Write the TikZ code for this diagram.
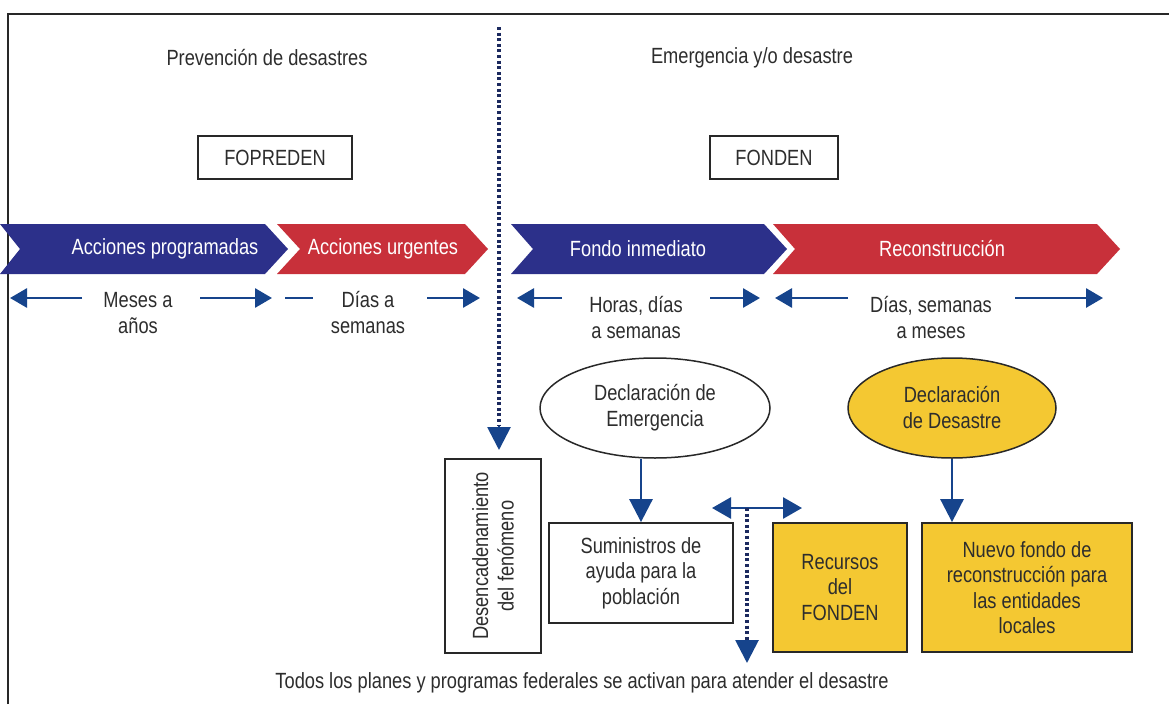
\documentclass[tikz,border=0pt]{standalone}
\usepackage{fontspec}
\setmainfont{Liberation Sans}[FakeStretch=0.83]
\usetikzlibrary{shapes.geometric,arrows.meta}
\definecolor{bblue}{RGB}{44,48,138}
\definecolor{bred}{RGB}{200,48,58}
\definecolor{byellow}{RGB}{244,200,50}
\definecolor{ablue}{RGB}{22,68,140}
\definecolor{dnavy}{RGB}{28,42,95}
\definecolor{txt}{RGB}{45,45,45}
\definecolor{frame}{RGB}{40,40,40}
\tikzset{
  lbl/.style={font=\fontsize{22}{26}\selectfont, text=txt, align=center, inner sep=0pt},
  wlbl/.style={font=\fontsize{22}{26}\selectfont, text=white, align=center, inner sep=0pt},
  plainbox/.style={draw=frame, line width=1.8pt, fill=white, font=\fontsize{22}{25.5}\selectfont, text=txt, align=center, inner sep=2pt},
  ybox/.style={plainbox, fill=byellow},
  oval/.style={ellipse, draw=frame, line width=1.5pt, font=\fontsize{22}{26}\selectfont, text=txt, align=center, inner sep=0pt},
  rowarr/.style={draw=ablue, line width=2.8pt, -{Triangle[length=17pt,width=19pt]}},
  rowline/.style={draw=ablue, line width=2.8pt},
  vdown/.style={draw=ablue, line width=2.8pt, -{Triangle[length=23pt,width=23pt]}},
  dotline/.style={draw=dnavy, line width=3.6pt, dash pattern=on 3pt off 2.6pt}
}
\begin{document}
\begin{tikzpicture}[x=1pt,y=-1pt]
\useasboundingbox (0,0) rectangle (1169,704);
\fill[white] (0,0) rectangle (1169,704);
% frame
\draw[frame, line width=2pt] (8,704) -- (8,14) -- (1169,14);

% titles
\node[lbl] (t1) at (267,58) {Prevención de desastres};
\node[lbl] (t2) at (752,58) {Emergencia y/o desastre};
\node[plainbox, minimum width=154pt, minimum height=43pt] (fopreden) at (275,157.5) {FOPREDEN};
\node[plainbox, minimum width=128pt, minimum height=43pt] (fonden) at (774,157.5) {FONDEN};

% banners
\fill[bblue] (0,224) -- (265,224) -- (288,249) -- (265,274) -- (0,274) -- (20,249) -- cycle;
\fill[bred] (277,224) -- (465,224) -- (488,249) -- (465,274) -- (277,274) -- (300,249) -- cycle;
\fill[bblue] (511,224) -- (764,224) -- (787,249) -- (764,274) -- (511,274) -- (533,249) -- cycle;
\fill[bred] (773,224) -- (1097,224) -- (1120,249) -- (1097,274) -- (773,274) -- (795,249) -- cycle;
\node[wlbl] (b1) at (165,249) {Acciones programadas};
\node[wlbl] (b2) at (383,249) {Acciones urgentes};
\node[wlbl] (b3) at (638,249) {Fondo inmediato};
\node[wlbl] (b4) at (942,249) {Reconstrucción};

% time spans
\node[lbl] (s1) at (138,313) {Meses a\\años};
\node[lbl] (s2) at (368,313) {Días a\\semanas};
\node[lbl] (s3) at (636,318) {Horas, días\\a semanas};
\node[lbl] (s4) at (931,318) {Días, semanas\\a meses};
\coordinate (a1l) at (10,298);  \coordinate (a1la) at (82,298);
\coordinate (a1r) at (272,298); \coordinate (a1ra) at (200,298);
\coordinate (a2la) at (285,298); \coordinate (a2lb) at (313,298);
\coordinate (a2r) at (480,298); \coordinate (a2ra) at (427,298);
\coordinate (a3l) at (517,298); \coordinate (a3la) at (562,298);
\coordinate (a3r) at (760,298); \coordinate (a3ra) at (710,298);
\coordinate (a4l) at (775,298); \coordinate (a4la) at (848,298);
\coordinate (a4r) at (1103,298); \coordinate (a4ra) at (1015,298);
\draw[rowarr] (a1la) -- (a1l);
\draw[rowarr] (a1ra) -- (a1r);
\draw[rowline] (a2la) -- (a2lb);
\draw[rowarr] (a2ra) -- (a2r);
\draw[rowarr] (a3la) -- (a3l);
\draw[rowarr] (a3ra) -- (a3r);
\draw[rowarr] (a4la) -- (a4l);
\draw[rowarr] (a4ra) -- (a4r);

% lower part
\node[oval, fill=white, minimum width=230pt, minimum height=100pt] (e1) at (655,408) {Declaración de\\Emergencia};
\node[oval, fill=byellow, minimum width=208pt, minimum height=100pt] (e2) at (952,408) {Declaración\\de Desastre};
\node[plainbox, rotate=90, minimum width=194pt, minimum height=96pt] (des) at (493,556) {Desencadenamiento\\del fenómeno};
\node[plainbox, minimum width=184pt, minimum height=100pt] (sum) at (641,573) {Suministros de\\ayuda para la\\población};
\node[ybox, minimum width=134pt, minimum height=129pt] (rec) at (840,587.5) {Recursos\\del\\FONDEN};
\node[ybox, minimum width=210pt, minimum height=129pt] (nue) at (1027,587.5) {Nuevo fondo de\\reconstrucción para\\las entidades\\locales};

% dotted divider
\coordinate (dtop) at (499,27);
\coordinate (dend) at (499,426);
\coordinate (dtip) at (499,450);
\draw[dotline] (dtop) -- (dend);
\draw[vdown] (dend) -- (dtip);

\draw[vdown] (e1.south -| sum.north) -- (sum.north);
\draw[vdown] (e2.south) -- (e2.south |- nue.north);

\coordinate (dl) at (712,508);
\coordinate (dr) at (802,508);
\coordinate (dm) at (747,508);
\coordinate (dm2) at (747,640);
\coordinate (db) at (747,663);
\draw[draw=ablue, line width=2.8pt, {Triangle[length=19pt,width=21pt]}-{Triangle[length=19pt,width=21pt]}] (dl) -- (dr);
\draw[dotline] (dm) -- (dm2);
\draw[vdown] (dm2) -- (db);

\node[lbl] (bottom) at (582,683) {Todos los planes y programas federales se activan para atender el desastre};
\end{tikzpicture}
\end{document}
